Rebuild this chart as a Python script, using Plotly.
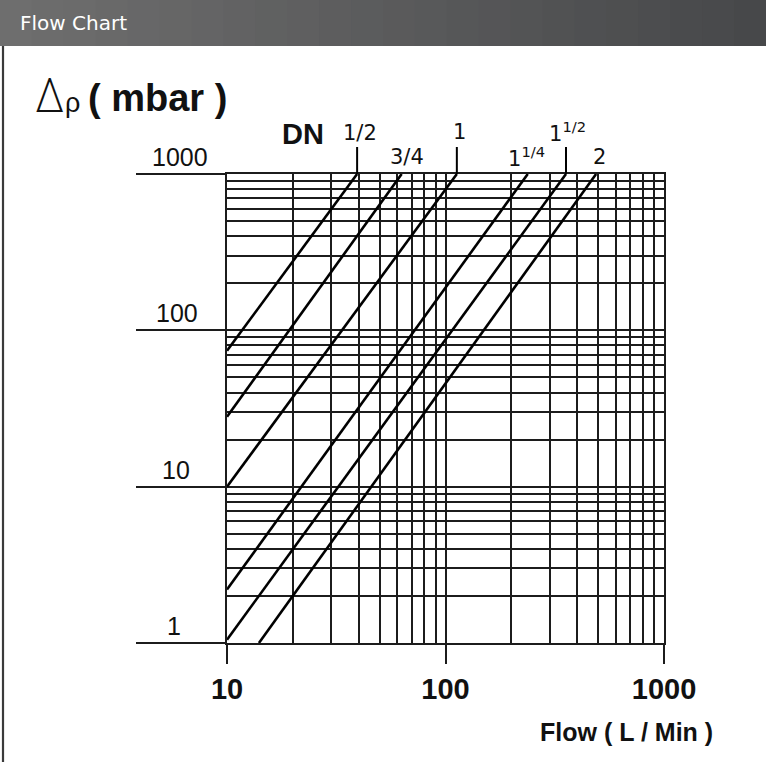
import math
import plotly.graph_objects as go

# ---------------- data ----------------
flow_major = [10, 100, 1000]
flow_major_labels = ["10", "100", "1000"]
flow_minor = [20, 30, 40, 50, 60, 70, 80, 90, 200, 300, 400, 500, 600, 700, 800, 900]

dp_major = [1, 10, 100, 1000]
dp_major_labels = ["1", "10", "100", "1000"]
dp_minor = [2, 3, 4, 5, 6, 7, 8, 9, 20, 30, 40, 50, 60, 70, 80, 90,
            200, 300, 400, 500, 600, 700, 800, 900]

dn_sizes = ["1/2", "3/4", "1", "1 1/4", "1 1/2", "2"]
dn_labels = ["1/2", "3/4", "1", "1<sup>1/4</sup>", "1<sup>1/2</sup>", "2"]
flow_start = [10, 10, 10, 10, 10, 14]
dp_start = [74, 28, 10, 2.2, 1.05, 1]
flow_end = [39.4, 63, 112.7, 238, 356, 489]
dp_end = [1000, 1000, 1000, 1000, 1000, 1000]
dn_with_tick = ["1/2", "1", "1 1/2"]

# ---------------- layout geometry ----------------
W, H = 766, 762
L, R, T, B = 227, 102, 174, 119
PW, PH = W - L - R, H - T - B

def px(x):
    return (x - L) / PW

def py(y):
    return (H - B - y) / PH

INK = "#1c1c1c"
SANS = "Liberation Sans, Arial, sans-serif"

fig = go.Figure()

for name, x0, y0, x1, y1 in zip(dn_sizes, flow_start, dp_start, flow_end, dp_end):
    fig.add_trace(go.Scatter(
        x=[x0, x1], y=[y0, y1], mode="lines", name="DN " + name,
        line=dict(color="#000000", width=2.6), hoverinfo="name",
        showlegend=False,
    ))

shapes = []
# header bar (stepped gradient)
n_strips = 24
c0, c1 = (0x6e, 0x6e, 0x6e), (0x47, 0x48, 0x4a)
for i in range(n_strips):
    t = i / (n_strips - 1)
    col = "rgb(%d,%d,%d)" % tuple(round(a + (b - a) * t) for a, b in zip(c0, c1))
    shapes.append(dict(type="rect", xref="paper", yref="paper",
                       x0=px(W * i / n_strips), x1=px(W * (i + 1) / n_strips + 1),
                       y0=py(46), y1=py(0), fillcolor=col, line=dict(width=0),
                       layer="below"))
# left frame line
shapes.append(dict(type="line", xref="paper", yref="paper",
                   x0=px(3), x1=px(3), y0=py(46), y1=py(H),
                   line=dict(color="#3a3a3a", width=2.2)))
# small ticks above the line ends for some sizes
for name, xe in zip(dn_sizes, flow_end):
    if name in dn_with_tick:
        xp = (math.log10(xe) - 1) / 2
        shapes.append(dict(type="line", xref="paper", yref="paper",
                           x0=xp, x1=xp, y0=1.0, y1=py(147),
                           line=dict(color="#000000", width=2)))

annotations = []
annotations.append(dict(text="Flow Chart", xref="paper", yref="paper",
                        x=px(18), y=py(23), xanchor="left", yanchor="middle",
                        showarrow=False,
                        font=dict(family="DejaVu Sans, Verdana, sans-serif",
                                  size=20, color="#ffffff")))
# y-axis title
annotations.append(dict(text="Δ", xref="paper", yref="paper", x=px(49), y=py(95),
                        xanchor="center", yanchor="middle", showarrow=False,
                        font=dict(family="Inter, Liberation Sans, sans-serif",
                                  size=46, color="#111111", weight=200)))
annotations.append(dict(text="ρ", xref="paper", yref="paper", x=px(72), y=py(103),
                        xanchor="center", yanchor="middle", showarrow=False,
                        font=dict(family=SANS, size=27, color="#111111")))
annotations.append(dict(text="( mbar )", xref="paper", yref="paper", x=px(157), y=py(98),
                        xanchor="center", yanchor="middle", showarrow=False,
                        font=dict(family=SANS, size=38, color="#111111", weight=700)))
# DN labels
annotations.append(dict(text="DN", xref="paper", yref="paper", x=px(303), y=py(134),
                        xanchor="center", yanchor="middle", showarrow=False,
                        font=dict(family=SANS, size=29, color="#111111", weight=700)))
lab_pos = {"1/2": (360, 133), "3/4": (407, 157), "1": (459, 132),
           "1 1/4": (526, 157), "1 1/2": (567, 132), "2": (599, 157)}
for name, lab in zip(dn_sizes, dn_labels):
    lx, ly = lab_pos[name]
    annotations.append(dict(text=lab, xref="paper", yref="paper", x=px(lx), y=py(ly),
                            xanchor="center", yanchor="middle", showarrow=False,
                            font=dict(family="DejaVu Sans, sans-serif", size=21,
                                      color="#111111")))
# y tick labels (above the lines)
ylab_x = {"1": 174, "10": 176, "100": 177, "1000": 180}
for v, lab in zip(dp_major, dp_major_labels):
    annotations.append(dict(text=lab, xref="paper", yref="y", x=px(ylab_x[lab]),
                            y=math.log10(v), yshift=17,
                            xanchor="center", yanchor="middle", showarrow=False,
                            font=dict(family=SANS, size=25, color="#111111")))
# x axis title
annotations.append(dict(text="Flow ( L / Min )", xref="paper", yref="paper",
                        x=px(626), y=py(732), xanchor="center", yanchor="middle",
                        showarrow=False,
                        font=dict(family=SANS, size=25, color="#111111", weight=700)))

fig.update_layout(
    width=W, height=H,
    margin=dict(l=L, r=R, t=T, b=B, pad=0),
    paper_bgcolor="#ffffff", plot_bgcolor="#ffffff",
    shapes=shapes, annotations=annotations,
    xaxis=dict(type="log", range=[1, 3], tickmode="array",
               tickvals=flow_major, ticktext=flow_major_labels,
               ticks="outside", ticklen=19, tickwidth=1.6, tickcolor=INK,
               showgrid=True, gridcolor=INK, gridwidth=1.6,
               showline=True, mirror=True, linecolor=INK, linewidth=1.6,
               zeroline=False,
               tickfont=dict(family=SANS, size=29, color="#111111", weight=700),
               minor=dict(tickmode="array", tickvals=flow_minor, showgrid=True,
                          gridcolor=INK, gridwidth=1.6, ticks=""),
               fixedrange=True),
    yaxis=dict(type="log", range=[0, 3], tickmode="array",
               tickvals=dp_major, ticktext=dp_major_labels,
               ticks="outside", ticklen=89, tickwidth=1.6, tickcolor=INK,
               showticklabels=False,
               showgrid=True, gridcolor=INK, gridwidth=1.6,
               showline=True, mirror=True, linecolor=INK, linewidth=1.6,
               zeroline=False,
               minor=dict(tickmode="array", tickvals=dp_minor, showgrid=True,
                          gridcolor=INK, gridwidth=1.6, ticks=""),
               fixedrange=True),
)

fig.write_html("out.html", config={"displayModeBar": False},
               post_script="document.body.style.margin='0';document.body.style.padding='0';")
